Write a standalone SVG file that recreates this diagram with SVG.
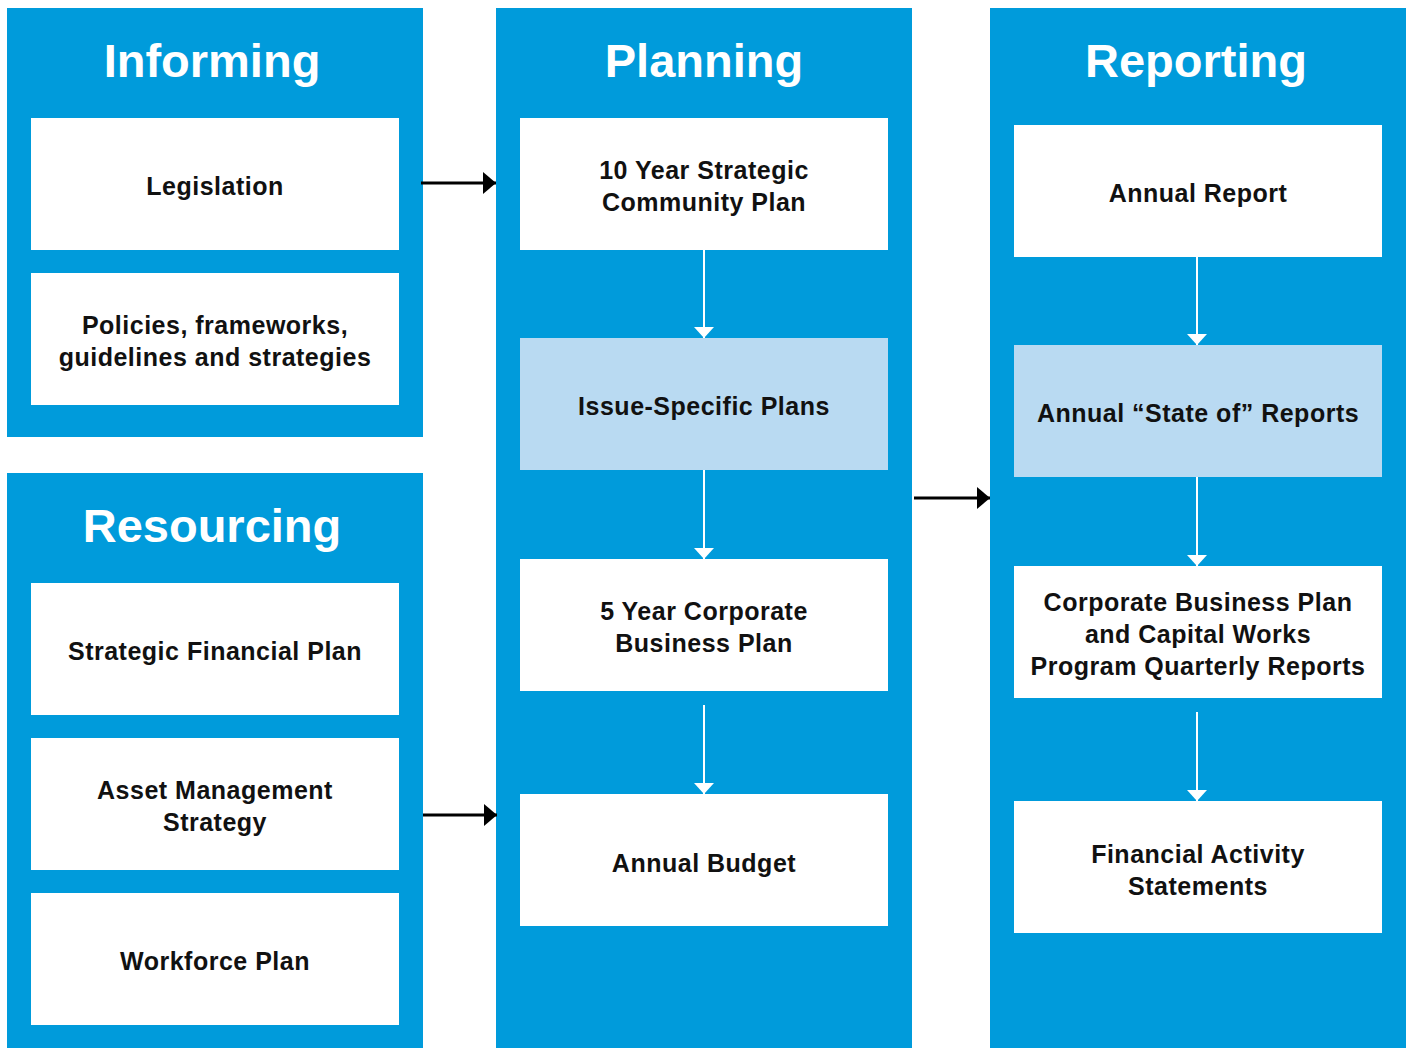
<svg xmlns="http://www.w3.org/2000/svg" width="1413" height="1048" viewBox="0 0 1413 1048">
<defs>
<style>
.panel{fill:#009bdb}
.box{fill:#ffffff}
.hl{fill:#b9daf2}
.title{font-family:"Liberation Sans",Arial,sans-serif;font-weight:bold;font-size:47px;fill:#ffffff;text-anchor:middle}
.lbl{font-family:"Liberation Sans",Arial,sans-serif;font-weight:bold;font-size:25px;letter-spacing:0.5px;fill:#111111;text-anchor:middle}
.wl{stroke:#ffffff;stroke-width:2;fill:none}
.bl{stroke:#000000;stroke-width:3;fill:none}
</style>
<marker id="wh" markerWidth="20" markerHeight="11" refX="10" refY="11" orient="0" markerUnits="userSpaceOnUse" viewBox="0 0 20 11">
<path d="M0,0 L20,0 L10,11 Z" fill="#ffffff"/>
</marker>
<marker id="bh" markerWidth="13" markerHeight="22" refX="13" refY="11" orient="auto" markerUnits="userSpaceOnUse" viewBox="0 0 13 22">
<path d="M0,0 L13,11 L0,22 Z" fill="#000000"/>
</marker>
</defs>

<g id="panel-informing">
<rect class="panel" x="7" y="8" width="416" height="429"/>
<text class="title" x="212" y="77">Informing</text>
</g>
<g id="panel-resourcing">
<rect class="panel" x="7" y="473" width="416" height="575"/>
<text class="title" x="212" y="542">Resourcing</text>
</g>
<g id="panel-planning">
<rect class="panel" x="496" y="8" width="416" height="1040"/>
<text class="title" x="704" y="77">Planning</text>
</g>
<g id="panel-reporting">
<rect class="panel" x="990" y="8" width="416" height="1040"/>
<text class="title" x="1196" y="77">Reporting</text>
</g>

<g id="legislation">
<rect class="box" x="31" y="118" width="368" height="132"/>
<text class="lbl" x="215" y="195">Legislation</text>
</g>
<g id="policies">
<rect class="box" x="31" y="273" width="368" height="132"/>
<text class="lbl" x="215" y="334">Policies, frameworks,</text>
<text class="lbl" x="215" y="366">guidelines and strategies</text>
</g>
<g id="strategic-financial-plan">
<rect class="box" x="31" y="583" width="368" height="132"/>
<text class="lbl" x="215" y="660">Strategic Financial Plan</text>
</g>
<g id="asset-management-strategy">
<rect class="box" x="31" y="738" width="368" height="132"/>
<text class="lbl" x="215" y="799">Asset Management</text>
<text class="lbl" x="215" y="831">Strategy</text>
</g>
<g id="workforce-plan">
<rect class="box" x="31" y="893" width="368" height="132"/>
<text class="lbl" x="215" y="970">Workforce Plan</text>
</g>

<g id="strategic-community-plan">
<rect class="box" x="520" y="118" width="368" height="132"/>
<text class="lbl" x="704" y="179">10 Year Strategic</text>
<text class="lbl" x="704" y="211">Community Plan</text>
</g>
<g id="issue-specific-plans">
<rect class="hl" x="520" y="338" width="368" height="132"/>
<text class="lbl" x="704" y="415">Issue-Specific Plans</text>
</g>
<g id="corporate-business-plan">
<rect class="box" x="520" y="559" width="368" height="132"/>
<text class="lbl" x="704" y="620">5 Year Corporate</text>
<text class="lbl" x="704" y="652">Business Plan</text>
</g>
<g id="annual-budget">
<rect class="box" x="520" y="794" width="368" height="132"/>
<text class="lbl" x="704" y="872">Annual Budget</text>
</g>

<g id="annual-report">
<rect class="box" x="1014" y="125" width="368" height="132"/>
<text class="lbl" x="1198" y="202">Annual Report</text>
</g>
<g id="state-of-reports">
<rect class="hl" x="1014" y="345" width="368" height="132"/>
<text class="lbl" x="1198" y="422">Annual “State of” Reports</text>
</g>
<g id="quarterly-reports">
<rect class="box" x="1014" y="566" width="368" height="132"/>
<text class="lbl" x="1198" y="611">Corporate Business Plan</text>
<text class="lbl" x="1198" y="643">and Capital Works</text>
<text class="lbl" x="1198" y="675">Program Quarterly Reports</text>
</g>
<g id="financial-activity-statements">
<rect class="box" x="1014" y="801" width="368" height="132"/>
<text class="lbl" x="1198" y="863">Financial Activity</text>
<text class="lbl" x="1198" y="895">Statements</text>
</g>

<g id="connectors">
<path class="wl" d="M704,250 V338" marker-end="url(#wh)"/>
<path class="wl" d="M704,470 V559" marker-end="url(#wh)"/>
<path class="wl" d="M704,705 V794" marker-end="url(#wh)"/>
<path class="wl" d="M1197,257 V345" marker-end="url(#wh)"/>
<path class="wl" d="M1197,477 V566" marker-end="url(#wh)"/>
<path class="wl" d="M1197,712 V801" marker-end="url(#wh)"/>
<path class="bl" d="M421,183 H496" marker-end="url(#bh)"/>
<path class="bl" d="M423,815 H497" marker-end="url(#bh)"/>
<path class="bl" d="M914,498 H990" marker-end="url(#bh)"/>
</g>
</svg>
